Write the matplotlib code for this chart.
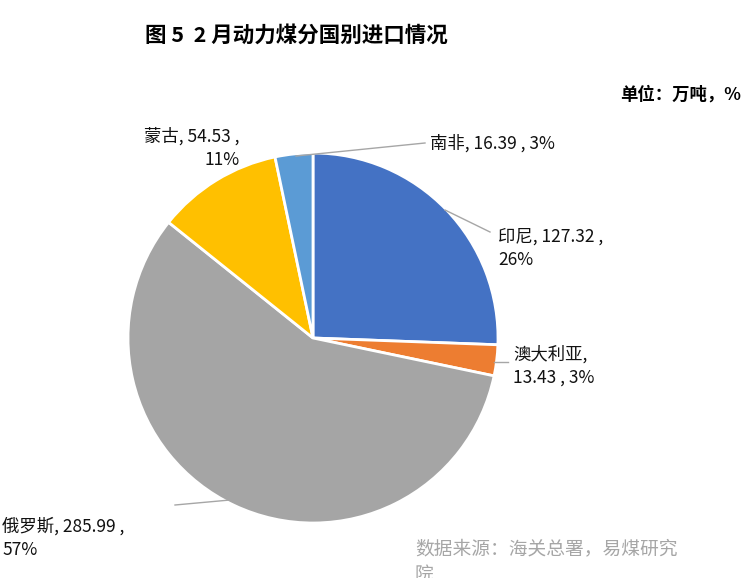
import matplotlib
matplotlib.use("Agg")
import matplotlib.pyplot as plt

plt.rcParams["font.family"] = ["Noto Sans CJK SC", "DejaVu Sans"]

countries = ["印尼", "澳大利亚", "俄罗斯", "蒙古", "南非"]
values = [127.32, 13.43, 285.99, 54.53, 16.39]
pcts = ["26%", "3%", "57%", "11%", "3%"]
colors = ["#4472C4", "#ED7D31", "#A5A5A5", "#FFC000", "#5B9BD5"]

W, H = 750, 578
fig = plt.figure(figsize=(7.5, 5.78), dpi=100)
cx, cy, r = 313, 338, 185
ax = fig.add_axes([(cx - r) / W, (H - cy - r) / H, 2 * r / W, 2 * r / H])
ax.pie(values, colors=colors, startangle=90, counterclock=False,
       wedgeprops=dict(edgecolor="white", linewidth=2))
ax.set_aspect("equal")
ax.set_xlim(-1, 1); ax.set_ylim(-1, 1)

def px(x, y):
    return x / W, 1 - y / H

labels = [
    (f"印尼, {values[0]:.2f} ,\n{pcts[0]}", (498, 248), "left"),
    (f"澳大利亚,\n{values[1]:.2f} , {pcts[1]}", (513, 366), "left"),
    (f"俄罗斯, {values[2]:.2f} ,\n{pcts[2]}", (2, 538), "left"),
    (f"蒙古, {values[3]:.2f} ,\n{pcts[3]}", (240, 148), "right"),
    (f"南非, {values[4]:.2f} , {pcts[4]}", (430, 143), "left"),
]
for txt, (x, y), ha in labels:
    fig.text(*px(x, y), txt, fontsize=12.5, ha=ha, va="center", linespacing=1.4,
             fontweight="medium", color="#111111")

for (x1, y1), (x2, y2) in [((445, 210), (490, 232)),
                           ((175, 505), (230, 500)),
                           ((296, 156), (425, 143)),
                           ((494, 362), (508, 362))]:
    fig.add_artist(plt.Line2D([x1 / W, x2 / W], [1 - y1 / H, 1 - y2 / H],
                              color="#A6A6A6", lw=1))

fig.text(*px(145, 35), "图 5  2 月动力煤分国别进口情况", fontsize=15.5, fontweight="bold",
         ha="left", va="center")
fig.text(*px(620, 95), "单位：万吨，%", fontsize=12.5, fontweight="bold",
         ha="left", va="center")
fig.text(*px(415, 538), "数据来源：海关总署，易煤研究\n院", fontsize=13.5,
         color="#A6A6A6", ha="left", va="top", linespacing=1.3)
fig.savefig("out.png", dpi=100)
